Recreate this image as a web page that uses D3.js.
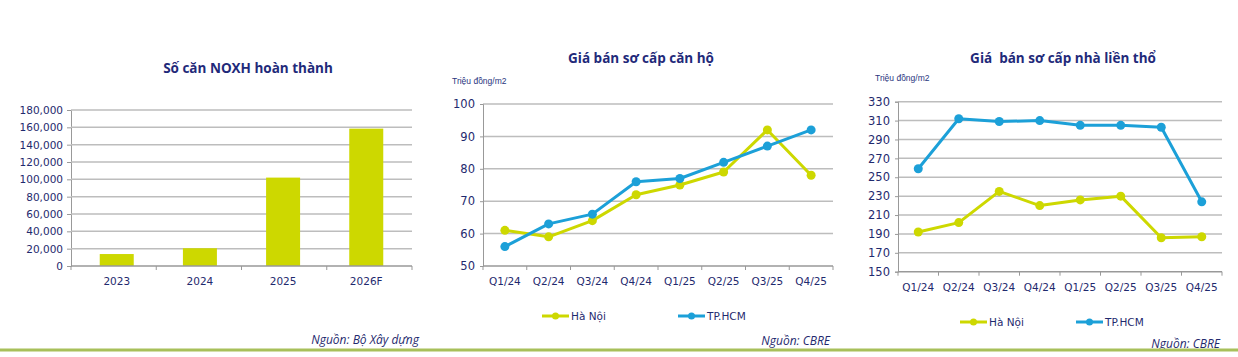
<!DOCTYPE html>
<html>
<head>
<meta charset="utf-8">
<script src="https://cdn.jsdelivr.net/npm/d3@7"></script>
<style>
  body { margin: 0; background: #fff; }
  svg { display: block; }
  .tick text { font-family: "DejaVu Sans", Verdana, sans-serif; fill: #1f2a6e; }
</style>
</head>
<body>
<svg id="chart" width="1238" height="357"></svg>
<script>
// Data
const years = ['2023', '2024', '2025', '2026F'];
const completedUnits = [13800, 20500, 102000, 158500];

const quarters = ['Q1/24', 'Q2/24', 'Q3/24', 'Q4/24', 'Q1/25', 'Q2/25', 'Q3/25', 'Q4/25'];
const aptHanoi = [61, 59, 64, 72, 75, 79, 92, 78];
const aptHcm = [56, 63, 66, 76, 77, 82, 87, 92];
const houseHanoi = [192, 202, 235, 220, 226, 230, 186, 187];
const houseHcm = [259, 312, 309, 310, 305, 305, 303, 224];

const seriesNames = ['Hà Nội', 'TP.HCM'];
const green = '#cdd800';
const blue = '#1ca0d8';
const navy = '#1f2a7a';
const grid = '#bdbdbd';
const titleFont = 'Open Sans, Noto Sans, sans-serif';

const svg = d3.select('#chart');

// Chart 1 - bar chart
function drawBars() {
    const x = d3.scaleBand().domain(years).range([71, 412]).paddingInner(0.6).paddingOuter(0.35);
    const y = d3.scaleLinear().domain([0, 180000]).range([266, 110]);
    const g = svg.append('g');

    g.append('text')
        .attr('x', 248).attr('y', 73)
        .attr('text-anchor', 'middle')
        .attr('font-family', titleFont)
        .attr('font-weight', 'bold').attr('font-size', 13.5)
        .attr('fill', navy)
        .text('Số căn NOXH hoàn thành');

    const yAxis = g.append('g').attr('transform', 'translate(71,0)')
        .call(d3.axisLeft(y).tickValues(d3.range(0, 180001, 20000)).tickSize(4).tickPadding(4).tickFormat(d3.format(',')));
    yAxis.selectAll('text').attr('font-size', 10.5);
    yAxis.select('.domain').attr('stroke', '#999');
    yAxis.selectAll('.tick line').attr('stroke', '#999');

    g.append('g').selectAll('line')
        .data(d3.range(20000, 180001, 20000))
        .enter().append('line')
        .attr('x1', 71).attr('x2', 412)
        .attr('y1', d => y(d)).attr('y2', d => y(d))
        .attr('stroke', grid).attr('stroke-width', 1.5);

    g.selectAll('rect')
        .data(completedUnits)
        .enter().append('rect')
        .attr('x', (d, i) => x(years[i]) + x.bandwidth() / 2 - 17)
        .attr('width', 34)
        .attr('y', d => y(d))
        .attr('height', d => 266 - y(d))
        .attr('fill', green);

    // x axis with ticks at category boundaries
    const xAxis = g.append('g').attr('transform', 'translate(0,266)');
    xAxis.append('line').attr('x1', 71).attr('x2', 412).attr('stroke', '#999').attr('stroke-width', 1.5);
    xAxis.selectAll('.sep')
        .data(d3.range(years.length + 1))
        .enter().append('line')
        .attr('x1', i => 71 + i * (341 / years.length)).attr('x2', i => 71 + i * (341 / years.length))
        .attr('y1', 0).attr('y2', 4).attr('stroke', '#999');
    xAxis.selectAll('.lbl')
        .data(years)
        .enter().append('text')
        .attr('x', d => x(d) + x.bandwidth() / 2)
        .attr('y', 19)
        .attr('text-anchor', 'middle')
        .attr('font-family', 'DejaVu Sans, Verdana, sans-serif')
        .attr('font-size', 10.5)
        .attr('fill', '#1f2a6e')
        .text(d => d);
}

// Line charts
function drawLines(opts) {
    const left = opts.left, right = opts.right, top = opts.top, bottom = opts.bottom;
    const x = d3.scaleBand().domain(quarters).range([left, right]);
    const y = d3.scaleLinear().domain(opts.domain).range([bottom, top]);
    const g = svg.append('g');

    g.append('text')
        .attr('x', opts.titleX).attr('y', opts.titleY)
        .attr('text-anchor', 'middle')
        .attr('font-family', titleFont)
        .attr('font-weight', 'bold').attr('font-size', 13.5)
        .attr('fill', navy)
        .attr('xml:space', 'preserve')
        .text(opts.title);

    g.append('text')
        .attr('x', opts.unitX).attr('y', opts.unitY)
        .attr('font-family', 'Liberation Sans, Arial, sans-serif')
        .attr('font-size', 8.5)
        .attr('fill', '#2a3580')
        .text('Triệu đồng/m2');

    const ticks = d3.range(opts.domain[0], opts.domain[1] + 1, opts.step);
    g.append('g').selectAll('line')
        .data(ticks.slice(1))
        .enter().append('line')
        .attr('x1', left).attr('x2', right)
        .attr('y1', d => y(d)).attr('y2', d => y(d))
        .attr('stroke', grid).attr('stroke-width', 1.5);

    const yAxis = g.append('g').attr('transform', `translate(${left},0)`)
        .call(d3.axisLeft(y).tickValues(ticks).tickSize(3).tickPadding(5));
    yAxis.selectAll('text').attr('font-size', 11.5);
    yAxis.select('.domain').attr('stroke', '#999');
    yAxis.selectAll('.tick line').attr('stroke', '#999');

    const xAxis = g.append('g').attr('transform', `translate(0,${bottom})`);
    xAxis.append('line').attr('x1', left).attr('x2', right).attr('stroke', '#999').attr('stroke-width', 1.5);
    xAxis.selectAll('.sep')
        .data(d3.range(quarters.length + 1))
        .enter().append('line')
        .attr('x1', i => left + i * x.step()).attr('x2', i => left + i * x.step())
        .attr('y1', 0).attr('y2', 4).attr('stroke', '#999');
    xAxis.selectAll('.lbl')
        .data(quarters)
        .enter().append('text')
        .attr('x', d => x(d) + x.bandwidth() / 2)
        .attr('y', 19)
        .attr('text-anchor', 'middle')
        .attr('font-family', 'DejaVu Sans, Verdana, sans-serif')
        .attr('font-size', 10.5)
        .attr('fill', '#1f2a6e')
        .text(d => d);

    const line = d3.line()
        .x((d, i) => x(quarters[i]) + x.bandwidth() / 2)
        .y(d => y(d));

    [[opts.hanoi, green], [opts.hcm, blue]].forEach(([vals, col]) => {
        g.append('path')
            .attr('d', line(vals))
            .attr('fill', 'none')
            .attr('stroke', col)
            .attr('stroke-width', 3)
            .attr('stroke-linejoin', 'round');
        g.selectAll(null)
            .data(vals)
            .enter().append('circle')
            .attr('cx', (d, i) => x(quarters[i]) + x.bandwidth() / 2)
            .attr('cy', d => y(d))
            .attr('r', 4.5)
            .attr('fill', col);
    });

    // legend
    const legend = g.append('g').attr('transform', `translate(0,${opts.legendY})`);
    opts.legendX.forEach((lx, i) => {
        const col = i === 0 ? green : blue;
        legend.append('line').attr('x1', lx).attr('x2', lx + 27).attr('stroke', col).attr('stroke-width', 3);
        legend.append('circle').attr('cx', lx + 13.5).attr('r', 3.5).attr('fill', col);
        legend.append('text')
            .attr('x', lx + 29).attr('y', 4)
            .attr('font-family', 'DejaVu Sans, Verdana, sans-serif')
            .attr('font-size', 10.5)
            .attr('fill', '#1f2a6e')
            .text(seriesNames[i]);
    });
}

function drawSource(text, rightX, baseY) {
    svg.append('text')
        .attr('x', rightX).attr('y', baseY)
        .attr('text-anchor', 'end')
        .attr('font-family', 'Liberation Sans Narrow, Open Sans, sans-serif')
        .attr('font-style', 'italic')
        .attr('font-size', 12)
        .attr('fill', '#1f2a6e')
        .text(text);
}

drawBars();

drawLines({
    title: 'Giá bán sơ cấp căn hộ', titleX: 641, titleY: 63,
    unitX: 452, unitY: 84,
    left: 483, right: 833, top: 104, bottom: 266,
    domain: [50, 100], step: 10,
    hanoi: aptHanoi, hcm: aptHcm,
    legendY: 316, legendX: [542, 678]
});

drawLines({
    title: 'Giá  bán sơ cấp nhà liền thổ', titleX: 1063, titleY: 63,
    unitX: 875, unitY: 81,
    left: 898, right: 1222, top: 101.7, bottom: 271.7,
    domain: [150, 330], step: 20,
    hanoi: houseHanoi, hcm: houseHcm,
    legendY: 322, legendX: [960, 1076]
});

drawSource('Nguồn: Bộ Xây dựng', 419, 344);
drawSource('Nguồn: CBRE', 830, 345);
drawSource('Nguồn: CBRE', 1220, 348);

// bottom rule
svg.append('line')
    .attr('x1', 0).attr('x2', 1238)
    .attr('y1', 350).attr('y2', 350)
    .attr('stroke', '#a8c05a').attr('stroke-width', 3);
</script>
</body>
</html>
